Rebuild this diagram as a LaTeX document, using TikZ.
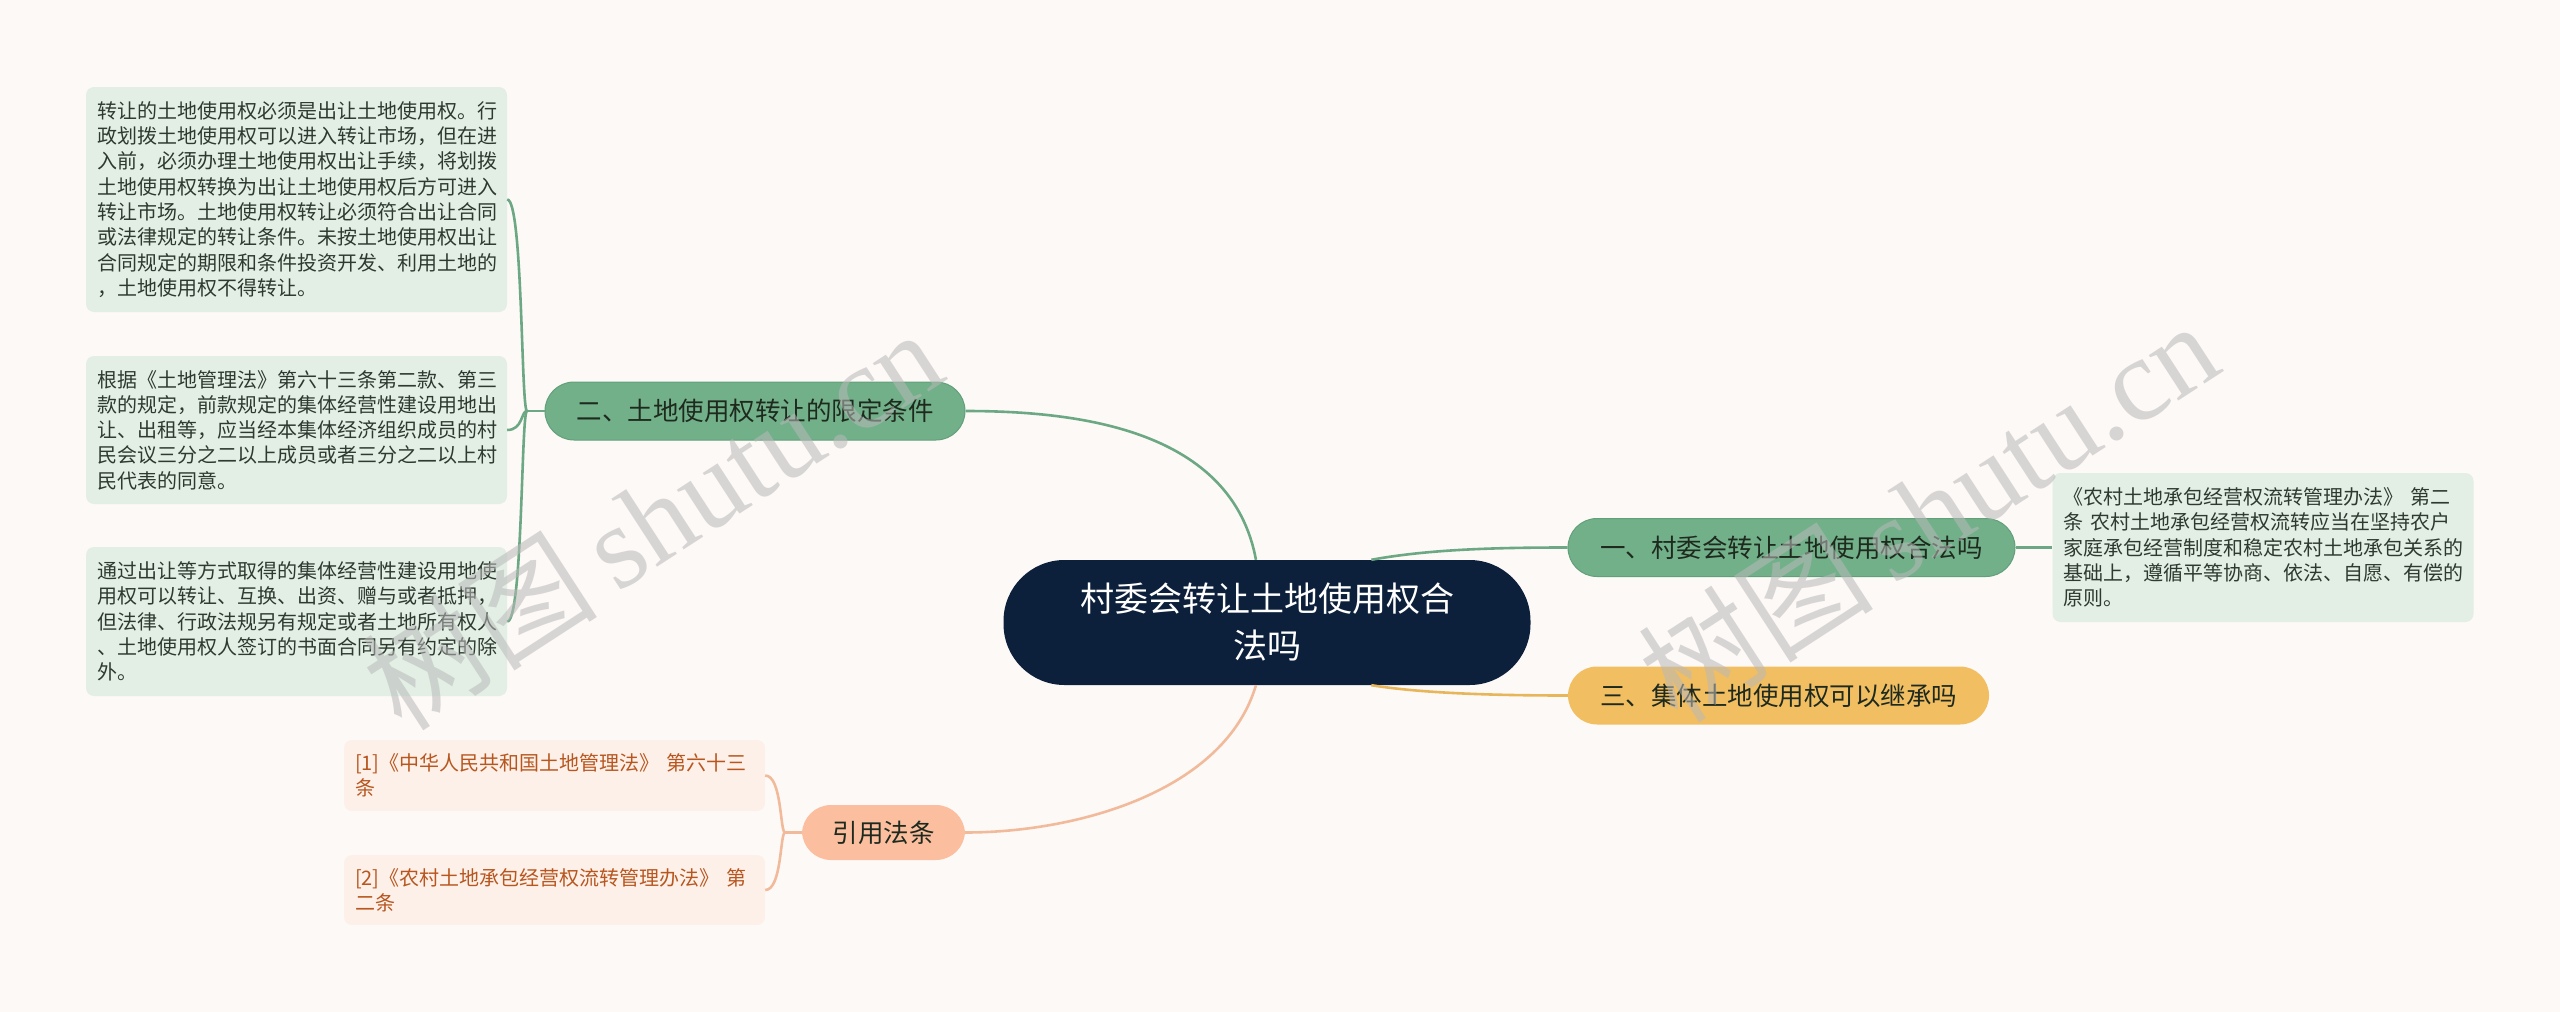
\documentclass[tikz,border=0pt]{standalone}
\usepackage{fontspec}
\newfontfamily\cjk{Noto Sans CJK SC}
\newfontfamily\wmlatin{Liberation Serif}
\definecolor{bgc}{HTML}{FDF9F7}
\definecolor{navy}{HTML}{0C1F3B}
\definecolor{gbfill}{HTML}{72B08A}
\definecolor{gbdraw}{HTML}{62A07A}
\definecolor{ybfill}{HTML}{F2BE62}
\definecolor{pbfill}{HTML}{FBBFA0}
\definecolor{gleaf}{HTML}{E3EFE5}
\definecolor{pleaf}{HTML}{FDF0E8}
\definecolor{gline}{HTML}{6CA883}
\definecolor{yline}{HTML}{E8B65A}
\definecolor{pline}{HTML}{F1BB9B}
\definecolor{leaftext}{HTML}{2E3A2F}
\definecolor{citetext}{HTML}{B8561F}
\definecolor{branchtext}{HTML}{1E2A1E}
\tikzset{
  centerbox/.style={fill=navy, text=white, rounded corners=61pt, minimum width=527pt,
    minimum height=125pt, inner sep=0pt, align=center, font=\cjk\fontsize{34}{47}\selectfont},
  branchbox/.style={rounded corners=29pt, minimum height=58pt, inner sep=0pt,
    text=branchtext, font=\cjk\fontsize{25.5}{30}\selectfont},
  greenbranch/.style={branchbox, fill=gbfill, draw=gbdraw, line width=1pt},
  yellowbranch/.style={branchbox, fill=ybfill},
  peachbranch/.style={branchbox, fill=pbfill},
  leafbox/.style={fill=gleaf, rounded corners=8pt, inner xsep=11pt, inner ysep=0pt,
    text width=399pt, align=left, text=leaftext, font=\cjk\fontsize{20}{25.3}\selectfont},
  citebox/.style={fill=pleaf, rounded corners=8pt, inner xsep=11pt, inner ysep=0pt,
    text width=399pt, align=left, text=citetext, font=\cjk\fontsize{20}{25}\selectfont},
  gconn/.style={draw=gline, line width=2.6pt},
  yconn/.style={draw=yline, line width=2.6pt},
  pconn/.style={draw=pline, line width=2.6pt},
  watermark/.style={text=gray!55, opacity=0.55, rotate=33, font=\fontsize{118}{118}\selectfont}
}
\begin{document}
\begin{tikzpicture}[x=1pt, y=-1pt]
\useasboundingbox (0,0) rectangle (2560,1012);
\fill[bgc] (0,0) rectangle (2560,1012);

% nodes
\node[centerbox] (c) at (1267,622.5) {村委会转让土地使用权合\\法吗};
\node[greenbranch, minimum width=420pt] (b2) at (755,411) {二、土地使用权转让的限定条件};
\node[greenbranch, minimum width=447pt] (b1) at (1791.5,547.5) {一、村委会转让土地使用权合法吗};
\node[yellowbranch, minimum width=421pt] (b3) at (1778.5,695.5) {三、集体土地使用权可以继承吗};
\node[peachbranch, minimum width=163pt, minimum height=55pt] (b4) at (883.5,832.5) {引用法条};

\node[leafbox, minimum height=225pt] (l1) at (296.5,199.5) {转让的土地使用权必须是出让土地使用权。行\\
政划拨土地使用权可以进入转让市场，但在进\\
入前，必须办理土地使用权出让手续，将划拨\\
土地使用权转换为出让土地使用权后方可进入\\
转让市场。土地使用权转让必须符合出让合同\\
或法律规定的转让条件。未按土地使用权出让\\
合同规定的期限和条件投资开发、利用土地的\\
，土地使用权不得转让。};
\node[leafbox, minimum height=148pt] (l2) at (296.5,430) {根据《土地管理法》第六十三条第二款、第三\\
款的规定，前款规定的集体经营性建设用地出\\
让、出租等，应当经本集体经济组织成员的村\\
民会议三分之二以上成员或者三分之二以上村\\
民代表的同意。};
\node[leafbox, minimum height=149pt] (l3) at (296.5,621.5) {通过出让等方式取得的集体经营性建设用地使\\
用权可以转让、互换、出资、赠与或者抵押，\\
但法律、行政法规另有规定或者土地所有权人\\
、土地使用权人签订的书面合同另有约定的除\\
外。};
\node[leafbox, minimum height=149pt] (r) at (2263,547.5) {《农村土地承包经营权流转管理办法》 第二\\
条 农村土地承包经营权流转应当在坚持农户\\
家庭承包经营制度和稳定农村土地承包关系的\\
基础上，遵循平等协商、依法、自愿、有偿的\\
原则。};
\node[citebox, minimum height=71pt] (k1) at (554.5,775.5) {[1]《中华人民共和国土地管理法》 第六十三\\
条};
\node[citebox, minimum height=70pt] (k2) at (554.5,890) {[2]《农村土地承包经营权流转管理办法》 第\\
二条};

% junction points
\coordinate (j2) at (527,411);
\coordinate (j4) at (785,832.5);

% connectors from center
\draw[gconn] (c.100) .. controls (1232,430) and (1080,411) .. (b2.east);
\draw[gconn] (c.31) .. controls (1430,549) and (1500,547.5) .. (b1.west);
\draw[yconn] (c.-31) .. controls (1420,693) and (1490,695.5) .. (b3.west);
\draw[pconn] (c.-100) .. controls (1225,790) and (1080,832.5) .. (b4.east);
\draw[gconn] (b1.east) -- (r.west);

% bracket for branch 2
\draw[gconn] (b2.west) -- (j2);
\draw[gconn] (j2) .. controls (521,411) and (523,199.5) .. (l1.east);
\draw[gconn] (j2) .. controls (521,411) and (523,430) .. (l2.east);
\draw[gconn] (j2) .. controls (521,411) and (523,621.5) .. (l3.east);

% bracket for citations
\draw[pconn] (b4.west) -- (j4);
\draw[pconn] (j4) .. controls (780,832.5) and (782,775.5) .. (k1.east);
\draw[pconn] (j4) .. controls (780,832.5) and (782,890) .. (k2.east);

% watermarks
\node[watermark] (w1) at (652,518) {\cjk 树图\,\wmlatin shutu.cn};
\node[watermark] (w2) at (1928,510) {\cjk 树图\,\wmlatin shutu.cn};
\end{tikzpicture}
\end{document}
